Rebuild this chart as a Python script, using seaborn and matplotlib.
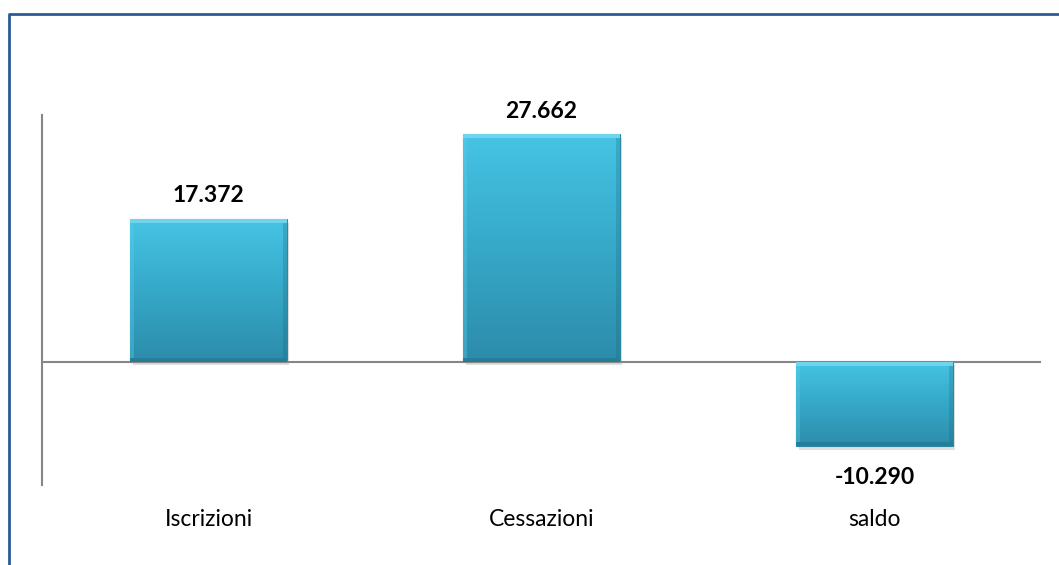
import numpy as np
import pandas as pd
import matplotlib
matplotlib.use("Agg")
import matplotlib.pyplot as plt
from matplotlib.colors import LinearSegmentedColormap
from matplotlib.lines import Line2D
import seaborn as sns

categories = ["Iscrizioni", "Cessazioni", "saldo"]
values = [17372, 27662, -10290]

sns.set_theme(style="white")
plt.rcParams["font.family"] = ["Lato", "DejaVu Sans"]

df = pd.DataFrame({"categoria": categories, "valore": values})

fig = plt.figure(figsize=(10.59, 5.65), dpi=100)
ax = fig.add_axes([0.0397, 0.1416, 0.9433, 0.6549])

sns.barplot(data=df, x="categoria", y="valore", color="#38B2D2",
            width=0.47, edgecolor="#2A8AA6", linewidth=0.8, ax=ax)

# gradient fill + bevel on each bar
cmap = LinearSegmentedColormap.from_list("bar", ["#2C8CAA", "#36A8C8", "#46C4E4"])
grad = np.linspace(0, 1, 256).reshape(-1, 1)
bev_x, bev_y = 0.012, 480
for p in list(ax.patches):
    x0, y0 = p.get_x(), p.get_y()
    w, h = p.get_width(), p.get_height()
    lo, hi = min(y0, y0 + h), max(y0, y0 + h)
    z = p.get_zorder()
    # soft shadow
    ax.add_patch(plt.Rectangle((x0 + 0.008, lo - 450), w, hi - lo, color="#000000",
                               alpha=0.12, zorder=z - 0.5, lw=0))
    im = ax.imshow(grad, extent=[x0, x0 + w, lo, hi], origin="lower",
                   cmap=cmap, aspect="auto", zorder=z + 0.1)
    im.set_clip_path(p)
    # bevel edges
    ax.add_patch(plt.Rectangle((x0, hi - bev_y), w, bev_y, color="#86E0F4",
                               alpha=0.65, lw=0, zorder=z + 0.2))
    ax.add_patch(plt.Rectangle((x0, lo), w, bev_y, color="#1C6377",
                               alpha=0.35, lw=0, zorder=z + 0.2))
    ax.add_patch(plt.Rectangle((x0, lo + bev_y), bev_x, hi - lo - 2 * bev_y,
                               color="#5CCFEA", alpha=0.35, lw=0, zorder=z + 0.2))
    ax.add_patch(plt.Rectangle((x0 + w - bev_x, lo + bev_y), bev_x, hi - lo - 2 * bev_y,
                               color="#1C6377", alpha=0.25, lw=0, zorder=z + 0.2))

ax.set_xlim(-0.5, 2.5)
ax.set_ylim(-15000, 30000)

ax.plot([-0.5, 2.5], [0, 0], color="#868686", lw=1.5, zorder=1, clip_on=True)

for i, v in enumerate(values):
    txt = f"{v:,}".replace(",", ".")
    off = 12 if v >= 0 else -27
    ax.annotate(txt, (i, v), xytext=(0, off), textcoords="offset points",
                ha="center", va="baseline", fontsize=16.5, fontweight="bold",
                color="#000000")

for s in ["top", "right", "bottom"]:
    ax.spines[s].set_visible(False)
ax.spines["left"].set_color("#868686")
ax.spines["left"].set_linewidth(1.5)

ax.set_yticks([])
ax.set_xlabel("")
ax.set_ylabel("")
ax.tick_params(axis="x", length=0, pad=17, labelsize=16.5, colors="#000000")

# outer frame of the chart area
fig.add_artist(Line2D([9 / 1059, 9 / 1059, 1.0], [0.0, 1 - 14 / 565, 1 - 14 / 565],
                      transform=fig.transFigure, color="#2A5C96", lw=2))

fig.savefig("out.png", dpi=100, facecolor="white")
